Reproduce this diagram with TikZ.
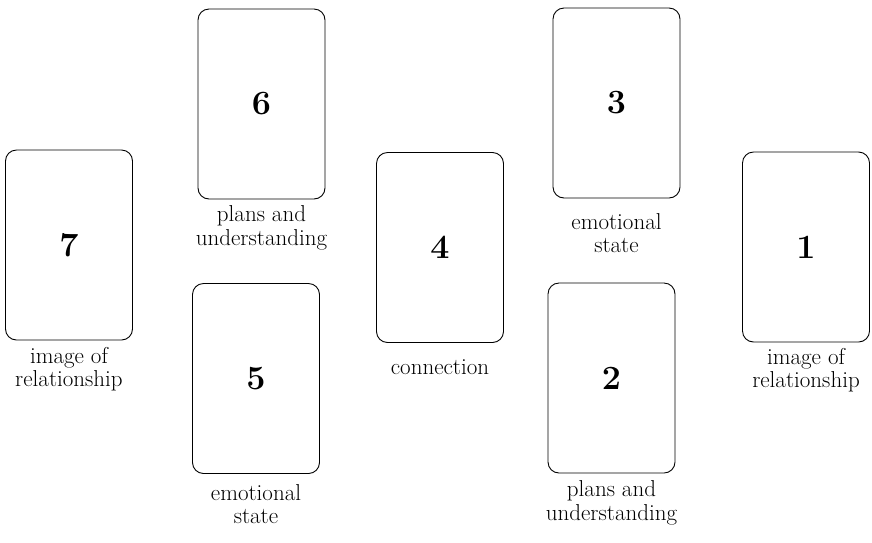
\documentclass[tikz,border=0pt]{standalone}
\begin{document}
\begin{tikzpicture}[x=1pt,y=-1pt,
  card/.style={draw, line width=0.9pt, rounded corners=11pt, minimum width=127pt, minimum height=190pt, inner sep=0pt,
    font=\fontsize{34}{34}\selectfont\bfseries},
  lbl/.style={align=center, inner sep=0pt, font=\fontsize{23}{23.5}\selectfont}]
\useasboundingbox (0,0) rectangle (872,542);
\node[card] (c7) at (69,245) {7};
\node[card] (c6) at (261.5,104) {6};
\node[card] (c5) at (256,378.5) {5};
\node[card] (c4) at (440,247.5) {4};
\node[card] (c3) at (616.5,103) {3};
\node[card] (c2) at (611.5,378) {2};
\node[card] (c1) at (806,247) {1};
\node[lbl] (l7) at (69,369) {image of\\relationship};
\node[lbl] (l6) at (261.5,228) {plans and\\understanding};
\node[lbl] (l5) at (256,504) {emotional\\state};
\node[lbl] (l4) at (440,367) {connection};
\node[lbl] (l3) at (616.5,233) {emotional\\state};
\node[lbl] (l2) at (611.5,503) {plans and\\understanding};
\node[lbl] (l1) at (806,370) {image of\\relationship};
\end{tikzpicture}
\end{document}
